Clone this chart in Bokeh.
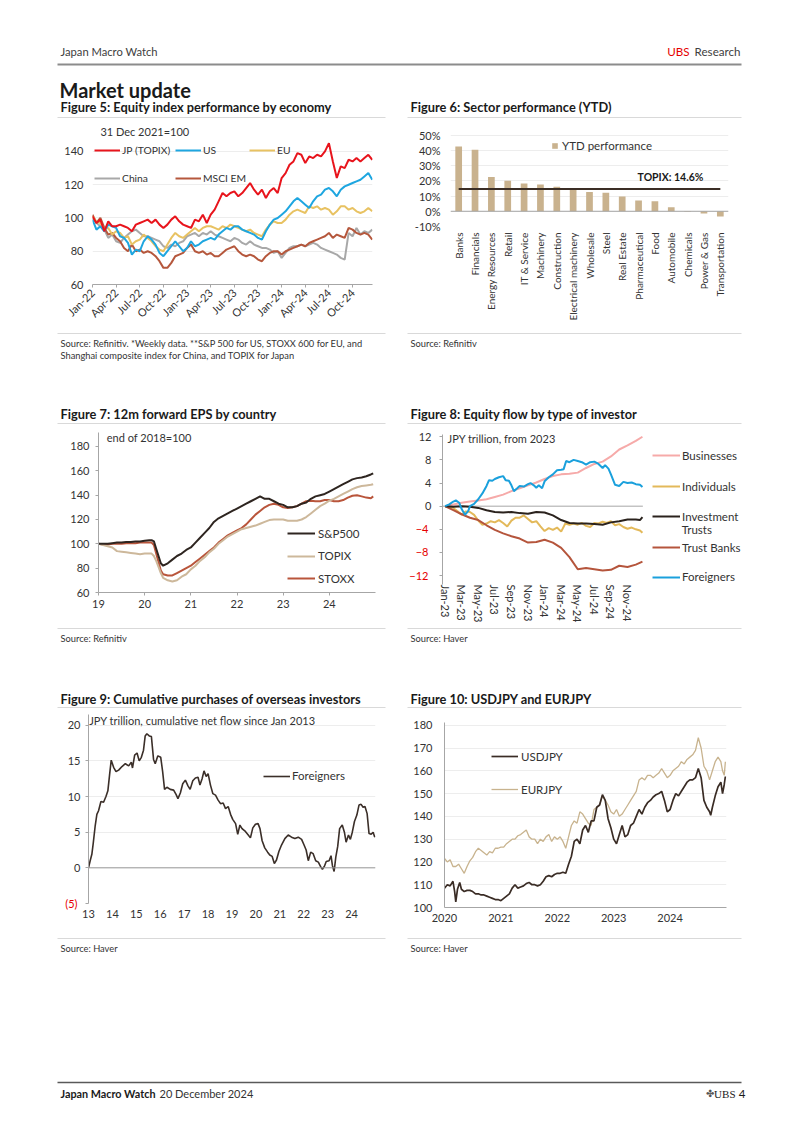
from math import pi
from bokeh.plotting import figure
from bokeh.layouts import column, row
from bokeh.models import (Range1d, FactorRange, FixedTicker, Legend, LegendItem, Label, Span,
                          LinearAxis, PrintfTickFormatter)
from bokeh.core.properties import value
from bokeh.embed import file_html
from bokeh.resources import INLINE

FONT = "Lato"
TXT = "#333333"
AX = "#a6a6a6"
GRID = "#ededed"
RED = "#e60000"

# ---------------- Figure 5 data (months since Jan-22, half-month steps) ----------------
f5_tick_pos = [0, 3, 6, 9, 12, 15, 18, 21, 24, 27, 30, 33]
f5_tick_labels = ["Jan-22", "Apr-22", "Jul-22", "Oct-22", "Jan-23", "Apr-23", "Jul-23", "Oct-23",
                  "Jan-24", "Apr-24", "Jul-24", "Oct-24"]
f5_jp = [101, 97, 99, 92, 98, 95, 95, 96, 95, 94, 92, 96, 97, 98, 99, 97, 99, 96, 94, 96, 99, 101, 98, 96,
         95, 94, 99, 98, 102, 97, 102, 105, 110, 115, 113, 115, 116, 113, 115, 118, 121, 117, 114, 117, 112, 116,
         118, 115, 124, 127, 132, 134, 139, 138, 133, 137, 136, 138, 137, 140, 145, 134, 124, 131, 130, 135,
         134, 136, 134, 136, 138, 135]
f5_us = [99, 93, 95, 92, 96, 95, 94, 89, 88, 85, 78, 81, 80, 86, 89, 87, 84, 79, 77, 80, 83, 86, 83, 80,
         82, 86, 83, 84, 86, 87, 88, 87, 90, 92, 94, 93, 95, 95, 93, 92, 91, 90, 88, 87, 92, 96,
         99, 100, 102, 104, 107, 110, 112, 110, 108, 106, 110, 113, 114, 117, 118, 116, 113, 117, 119, 120,
         121, 122, 123, 125, 127, 123]
f5_eu = [101, 98, 97, 93, 94, 90, 92, 91, 88, 89, 84, 86, 87, 90, 88, 86, 83, 81, 80, 84, 88, 91, 89, 88,
         90, 92, 94, 92, 94, 95, 95, 94, 93, 95, 94, 96, 95, 94, 93, 92, 93, 91, 90, 89, 93, 96,
         98, 97, 97, 99, 102, 104, 105, 104, 103, 107, 106, 107, 105, 106, 105, 102, 104, 107, 107, 105,
         106, 104, 103, 104, 106, 104]
f5_china = [100, 97, 95, 93, 88, 90, 86, 85, 88, 90, 92, 93, 91, 89, 89, 88, 87, 86, 83, 82, 84, 83, 85, 86,
            89, 90, 91, 89, 91, 90, 92, 90, 89, 88, 87, 86, 88, 87, 85, 84, 86, 84, 83, 82, 82, 81,
            79, 80, 76, 79, 82, 83, 83, 84, 83, 84, 85, 84, 82, 81, 80, 79, 78, 76, 75, 91,
            89, 94, 90, 92, 91, 93]
f5_em = [102, 97, 100, 94, 90, 91, 88, 86, 82, 80, 84, 80, 81, 79, 80, 79, 77, 74, 70, 70, 73, 77, 78, 79,
         82, 84, 80, 79, 80, 78, 79, 77, 77, 79, 81, 82, 83, 80, 78, 77, 78, 77, 75, 74, 77, 79,
         80, 80, 78, 80, 81, 82, 83, 84, 83, 85, 86, 87, 88, 89, 91, 88, 90, 89, 88, 94,
         93, 91, 90, 91, 90, 87]

# ---------------- Figure 6 data ----------------
f6_sectors = ["Banks", "Financials", "Energy Resources", "Retail", "IT & Service", "Machinery",
              "Construction", "Electrical machinery", "Wholesale", "Steel", "Real Estate",
              "Pharmaceutical", "Food", "Automobile", "Chemicals", "Power & Gas", "Transportation"]
f6_ytd = [42.5, 40.5, 22.5, 20.0, 18.2, 17.6, 16.1, 15.0, 12.6, 12.1, 9.7, 7.1, 6.6, 2.7, -0.3, -1.5, -3.5]
f6_topix = 14.6
f6_ticks = [-10, 0, 10, 20, 30, 40, 50]

# ---------------- Figure 7 data (year) ----------------
f7_year = [2019.0, 2019.1, 2019.2, 2019.3, 2019.4, 2019.5, 2019.6, 2019.7, 2019.8, 2019.9, 2020.0, 2020.1,
           2020.15, 2020.2, 2020.25, 2020.3, 2020.35, 2020.4,
           2020.5, 2020.6, 2020.7, 2020.8, 2020.9,
           2021.0, 2021.1, 2021.2, 2021.3, 2021.4, 2021.5, 2021.6, 2021.7, 2021.8, 2021.9,
           2022.0, 2022.1, 2022.2, 2022.3, 2022.4, 2022.5, 2022.6, 2022.7, 2022.8, 2022.9,
           2023.0, 2023.1, 2023.2, 2023.3, 2023.4, 2023.5, 2023.6, 2023.7, 2023.8, 2023.9,
           2024.0, 2024.1, 2024.2, 2024.3, 2024.4, 2024.5, 2024.6, 2024.7, 2024.8, 2024.9, 2024.95]
f7_sp = [100, 100, 100, 100.5, 101, 101, 101.5, 101.5, 102, 102, 102.5, 103,
         103, 102, 96, 90, 84, 82,
         84, 87, 90, 92, 95,
         97, 101, 105, 109, 113, 118, 121, 123, 125, 127,
         129, 131, 133, 135, 137, 139, 137, 137, 135, 133,
         132, 130, 130, 131, 133, 134, 137, 139, 140, 141,
         143, 145, 147, 149, 151, 153, 154, 154.5, 155.5, 157, 158]
f7_topix = [100, 99, 98, 97, 94, 93.5, 93, 92.5, 92, 91.5, 92, 92,
            92, 90, 86, 81, 76, 72,
            70, 69, 70, 73, 75,
            79, 82, 86, 89, 93, 96, 100, 103, 106, 108,
            110, 112, 113, 114, 115, 116.5, 118, 119.5, 120, 120,
            120, 119, 119, 119, 120, 122, 125, 128, 131, 133,
            135.5, 137, 139, 141, 143, 145, 146.5, 147.5, 148, 148.5, 149]
f7_stoxx = [100, 99.5, 99.5, 100, 100, 100, 100.5, 100.5, 100.5, 101, 101, 101,
            101, 99, 92, 85, 78, 75,
            74, 74, 76, 78, 80,
            82, 85, 88, 91, 94, 97, 101, 104, 107, 109,
            111, 113, 116, 120, 124, 127, 130, 132, 133, 132,
            130, 129.5, 130, 131, 133, 135, 135.5, 135, 135, 136,
            136, 135, 135, 136, 138, 139.5, 140, 139, 138, 137.5, 139]
f7_ticks = [2019, 2020, 2021, 2022, 2023, 2024]
f7_tick_labels = ["19", "20", "21", "22", "23", "24"]

# ---------------- Figure 8 data (months since Jan-23) ----------------
f8_tick_pos = [0, 2, 4, 6, 8, 10, 12, 14, 16, 18, 20, 22]
f8_tick_labels = ["Jan-23", "Mar-23", "May-23", "Jul-23", "Sep-23", "Nov-23",
                  "Jan-24", "Mar-24", "May-24", "Jul-24", "Sep-24", "Nov-24"]
f8_yticks = [-12, -8, -4, 0, 4, 8, 12]
f8_bus_m = [0, 1, 2, 3, 4, 5, 6, 7, 8, 9, 10, 11, 12, 13, 14, 15, 16, 17, 18, 19, 20, 21, 22, 23, 23.8]
f8_bus = [0, 0.3, 0.6, 0.8, 1.0, 1.2, 1.6, 2.0, 2.6, 3.1, 3.6, 4.1, 4.7, 5.2, 5.5, 5.6, 5.8, 6.6, 7.3, 7.7,
          8.6, 9.8, 10.5, 11.3, 12.0]
f8_ind_m = [0, 0.5, 1, 1.5, 2, 2.5, 3, 3.5, 4, 4.5, 5, 5.5, 6, 6.5, 7, 7.5, 8, 8.5, 9, 9.5, 10, 10.5, 11, 11.5,
            12, 12.5, 13, 13.5, 14, 14.5, 15, 15.5, 16, 16.5, 17, 17.5, 18, 18.5, 19, 19.5, 20, 20.5, 21,
            21.5, 22, 22.5, 23, 23.5, 23.8]
f8_ind = [0, -0.1, -0.3, -0.9, -1.5, -0.9, -1.0, -1.5, -2.5, -3.2, -3.0, -2.6, -2.8, -2.4, -2.9, -3.5, -2.5,
          -2.0, -2.0, -1.6, -2.2, -2.8, -2.6, -3.5, -4.3, -3.8, -4.1, -3.7, -4.4, -3.0, -3.2, -3.0, -3.2, -2.9,
          -3.4, -3.6, -2.9, -3.0, -2.7, -2.9, -2.6, -3.3, -3.1, -3.6, -3.9, -3.7, -4.0, -4.2, -4.6]
f8_it_m = [0, 1, 2, 3, 4, 5, 6, 7, 8, 9, 10, 11, 12, 13, 14, 15, 16, 17, 18, 19, 20, 21, 22, 23, 23.5, 23.8]
f8_it = [0, -0.1, 0, -0.1, -0.3, -0.7, -1.0, -1.1, -1.0, -1.2, -1.3, -1.0, -1.1, -1.6, -2.4, -2.9, -3.0, -3.0,
         -3.1, -3.2, -2.8, -2.6, -2.3, -2.3, -2.4, -1.9]
f8_tb_m = [0, 1, 2, 3, 4, 5, 6, 7, 8, 9, 10, 11, 12, 13, 14, 15, 16, 17, 18, 19, 20, 21, 22, 23, 23.8]
f8_tb = [0, -0.7, -1.4, -2.0, -2.4, -3.3, -4.1, -4.7, -5.2, -5.6, -6.3, -6.2, -5.8, -6.3, -7.2, -8.8, -10.9,
         -10.7, -10.9, -11.1, -11.0, -10.3, -10.5, -10.1, -9.6]
f8_for_m = [0, 0.5, 1, 1.3, 1.7, 2, 2.4, 2.8, 3, 3.5, 4, 4.5, 5, 5.3, 5.7, 6, 6.5, 7, 7.3, 7.7, 8, 8.3, 8.7,
            9, 9.5, 10, 10.3, 10.7, 11, 11.3, 11.7, 12, 12.5, 13, 13.5, 14, 14.3, 14.6, 15, 15.5, 16, 16.5,
            17, 17.5, 18, 18.5, 19, 19.3, 19.7, 20, 20.5, 21, 21.5, 22, 22.5, 23, 23.5, 23.8]
f8_for = [0, 0.3, 0.8, 1.0, 0.6, -0.5, -1.5, -0.8, 0.0, 0.4, 1.2, 2.2, 3.5, 4.5, 4.4, 4.7, 5.0, 5.2, 4.5,
          4.4, 3.6, 2.6, 3.1, 3.5, 3.4, 3.8, 4.0, 3.6, 3.2, 3.6, 3.1, 4.3, 5.0, 5.5, 6.2, 6.3, 6.4, 7.8,
          7.6, 8.0, 7.8, 7.6, 7.2, 7.6, 7.7, 7.3, 6.6, 7.1, 6.5, 5.5, 3.7, 3.5, 4.2, 4.0, 4.1, 3.8, 3.7, 3.3]

# ---------------- Figure 9 data (year 13 = 2013) ----------------
f9_year = [13.0, 13.07, 13.14, 13.2, 13.28, 13.35, 13.42, 13.52, 13.63, 13.73, 13.81, 13.88, 13.95, 14.05,
           14.15, 14.26, 14.4, 14.54, 14.68, 14.79, 14.84, 14.93, 15.03, 15.12, 15.21, 15.3, 15.37, 15.44,
           15.54, 15.63, 15.72, 15.79, 15.9, 16.02, 16.1, 16.18, 16.28, 16.42, 16.56, 16.66, 16.74, 16.84,
           16.94, 17.05, 17.16, 17.25, 17.36, 17.47, 17.58, 17.66, 17.75, 17.83, 17.92, 18.0, 18.1, 18.2,
           18.31, 18.42, 18.52, 18.63, 18.73, 18.84, 18.94, 19.03, 19.15, 19.24, 19.33, 19.42, 19.56, 19.68,
           19.77, 19.87, 19.98, 20.09, 20.17, 20.26, 20.37, 20.49, 20.58, 20.68, 20.77, 20.86, 20.96, 21.07,
           21.21, 21.35, 21.49, 21.63, 21.77, 21.91, 22.0, 22.1, 22.19, 22.29, 22.39, 22.5, 22.61, 22.7,
           22.78, 22.86, 22.94, 23.06, 23.14, 23.2, 23.27, 23.34, 23.42, 23.5, 23.61, 23.7, 23.77, 23.87,
           23.95, 24.03, 24.12, 24.22, 24.31, 24.4, 24.48, 24.56, 24.65, 24.73, 24.82, 24.9, 24.97]
f9_flow = [0, 1, 1.9, 3.5, 5.9, 7.5, 8, 9.3, 9.2, 10, 10.8, 13, 15.1, 14.1, 13.5, 13.7, 14.2, 14.6, 14.3,
           14.8, 14.0, 15.8, 16.1, 15.0, 15.5, 16.5, 18.5, 18.8, 18.5, 18.4, 15.2, 14.6, 15.7, 15.5, 13.5,
           11.0, 11.3, 11.0, 10.9, 10.3, 9.7, 10.5, 11.8, 12.3, 11.5, 11.0, 12.2, 12.6, 12.7, 11.6, 12.5,
           13.6, 12.8, 13.2, 11.6, 10.4, 10.2, 9.5, 9.0, 9.1, 8.3, 8.6, 7.5, 6.8, 6.2, 4.7, 6.0, 5.5, 5.1,
           4.6, 4.2, 5.6, 6.1, 6.2, 5.5, 3.8, 2.8, 2.2, 1.8, 1.6, 0.6, 1.1, 2.3, 3.2, 4.1, 4.6, 4.3, 4.1, 4.3,
           4.0, 3.3, 2.5, 1.0, 2.2, 2.0, 1.0, 0.8, 0.2, -0.2, 0.2, 0.9, 1.0, 1.7, 0.3, -0.5, 1.5, 3.0, 5.5,
           6.0, 5.0, 3.6, 4.6, 4.0, 5.0, 6.5, 7.4, 8.8, 8.9, 8.5, 8.6, 7.6, 4.8, 4.7, 5.0, 4.3]
f9_ticks = [13, 14, 15, 16, 17, 18, 19, 20, 21, 22, 23, 24]
f9_tick_labels = ["13", "14", "15", "16", "17", "18", "19", "20", "21", "22", "23", "24"]
f9_yticks = [-5, 0, 5, 10, 15, 20]

# ---------------- Figure 10 data (year) ----------------
f10_usd_year = [2020.0, 2020.05, 2020.1, 2020.15, 2020.18, 2020.2, 2020.23, 2020.27, 2020.3, 2020.35, 2020.4,
                2020.45, 2020.5, 2020.55, 2020.6, 2020.65, 2020.7, 2020.75, 2020.8, 2020.85, 2020.9, 2020.95,
                2021.0, 2021.05, 2021.1, 2021.15, 2021.2, 2021.25, 2021.3, 2021.35, 2021.4, 2021.45, 2021.5,
                2021.55, 2021.6, 2021.65, 2021.7, 2021.75, 2021.8, 2021.85, 2021.9, 2021.95,
                2022.0, 2022.05, 2022.1, 2022.15, 2022.2, 2022.25, 2022.3, 2022.35, 2022.4, 2022.45, 2022.5,
                2022.55, 2022.6, 2022.65, 2022.7, 2022.75, 2022.8, 2022.85, 2022.9, 2022.95,
                2023.0, 2023.05, 2023.1, 2023.15, 2023.2, 2023.25, 2023.3, 2023.35, 2023.4, 2023.45, 2023.5,
                2023.55, 2023.6, 2023.65, 2023.7, 2023.75, 2023.8, 2023.85, 2023.9, 2023.95,
                2024.0, 2024.05, 2024.1, 2024.15, 2024.2, 2024.25, 2024.3, 2024.35, 2024.4, 2024.45, 2024.5,
                2024.55, 2024.6, 2024.65, 2024.7, 2024.72, 2024.75, 2024.8, 2024.85, 2024.9, 2024.93, 2024.96,
                2024.98]
f10_usd = [108.5, 110, 109.5, 111.5, 107, 102.5, 108, 111, 108, 107, 107.5,
           107.5, 107, 106, 106, 105.5, 105.5, 105, 104.5, 104, 103.5, 103.5,
           103, 104, 105, 106, 108.5, 110, 108.5, 109, 109.5, 110.5, 111,
           110, 110, 109.5, 110, 111.5, 113.5, 114, 113.5, 114.5,
           115, 115, 115.5, 115, 119, 122.5, 129, 130, 128, 134, 136,
           133, 138, 138, 144, 145, 149.5, 147, 139, 135,
           130, 128, 132, 136, 131, 132, 136, 137, 140, 143, 141,
           144, 146, 147, 148.5, 149.5, 150, 151, 147, 142,
           143, 147, 150, 149, 151, 153, 155, 156, 156, 157, 161,
           157, 147, 144, 142, 140.5, 144, 149, 153, 155, 150, 154, 157.5]
f10_eur_year = [2020.0, 2020.05, 2020.1, 2020.15, 2020.2, 2020.25, 2020.3, 2020.35, 2020.4, 2020.45, 2020.5,
                2020.55, 2020.6, 2020.65, 2020.7, 2020.75, 2020.8, 2020.85, 2020.9, 2020.95,
                2021.0, 2021.05, 2021.1, 2021.15, 2021.2, 2021.25, 2021.3, 2021.35, 2021.4, 2021.45, 2021.5,
                2021.55, 2021.6, 2021.65, 2021.7, 2021.75, 2021.8, 2021.85, 2021.9, 2021.95,
                2022.0, 2022.05, 2022.1, 2022.15, 2022.2, 2022.25, 2022.3, 2022.35, 2022.4, 2022.45, 2022.5,
                2022.55, 2022.6, 2022.65, 2022.7, 2022.75, 2022.8, 2022.85, 2022.9, 2022.95,
                2023.0, 2023.05, 2023.1, 2023.15, 2023.2, 2023.25, 2023.3, 2023.35, 2023.4, 2023.45, 2023.5,
                2023.55, 2023.6, 2023.65, 2023.7, 2023.75, 2023.8, 2023.85, 2023.9, 2023.95,
                2024.0, 2024.05, 2024.1, 2024.15, 2024.2, 2024.25, 2024.3, 2024.35, 2024.4, 2024.45, 2024.5,
                2024.55, 2024.6, 2024.65, 2024.7, 2024.75, 2024.8, 2024.85, 2024.9, 2024.93, 2024.96, 2024.98]
f10_eur = [121.5, 120, 121, 118, 118, 119, 117, 115, 118, 120.5, 122,
           124.5, 126, 125, 124, 123, 124.5, 124, 126, 126,
           126.5, 126.5, 128, 129, 130, 130, 131.5, 132, 133, 134, 131,
           130, 130, 128, 130, 129, 131, 132, 129, 131,
           130, 131, 129, 126, 131, 136, 138, 137, 142, 141, 139,
           137, 136, 143, 144, 145, 149, 147, 145, 142,
           141, 143, 140, 141, 143, 145, 147, 149, 151, 156, 157,
           156, 158, 158, 157, 158, 159, 161, 159, 157,
           158, 160, 161, 162, 164, 163, 165, 166, 167, 169, 174.5,
           170, 162, 160, 156, 160, 164, 166, 164, 160, 158, 164]
f10_ticks = [2020, 2021, 2022, 2023, 2024]
f10_tick_labels = ["2020", "2021", "2022", "2023", "2024"]


def pairs(xs, ys):
    n = min(len(xs), len(ys))
    return list(xs[:n]), list(ys[:n])


def canvas(w, h):
    c = figure(width=w, height=h, x_range=Range1d(0, w), y_range=Range1d(h, 0),
               x_axis_type=None, y_axis_type=None, output_backend="svg",
               toolbar_location=None, min_border=0)
    c.outline_line_color = None
    c.frame_align = False
    return c


def put(c, x, y, s, size="11px", bold=False, color=TXT, align="left", font=FONT):
    c.text(x=[x], y=[y], text=[s], text_font=value(font), text_font_size=size,
           text_font_style="bold" if bold else "normal", text_color=color,
           text_align=align, text_baseline="middle")


def hline(c, x0, x1, y, color="#d9d9d9", width=1):
    c.segment(x0=[x0], y0=[y], x1=[x1], y1=[y], line_color=color, line_width=width)


def chart(w, h, xr, yr, l, r, t, b):
    p = figure(width=w, height=h, x_range=xr, y_range=yr, output_backend="svg",
               toolbar_location=None, min_border_left=l, min_border_right=r,
               min_border_top=t, min_border_bottom=b)
    p.frame_align = False
    p.outline_line_color = None
    p.xgrid.grid_line_color = None
    p.ygrid.grid_line_color = None
    return p


def style_axis(ax, standoff=6, tick_out=0, line=AX, size="11px", color=TXT):
    ax.major_label_text_font = FONT
    ax.major_label_text_font_size = size
    ax.major_label_text_color = color
    ax.axis_line_color = line
    ax.major_tick_line_color = AX if tick_out else None
    ax.major_tick_in = 0
    ax.major_tick_out = tick_out
    ax.minor_tick_line_color = None
    ax.major_label_standoff = standoff


def leg(p, label, r, x, y, gw=26, gh=14, standoff=3, size="11px"):
    lg = Legend(items=[LegendItem(label=label, renderers=[r])], location=(x, y),
                orientation="vertical", glyph_width=gw, glyph_height=gh, label_standoff=standoff,
                label_height=gh, label_width=10, padding=0, margin=0, spacing=0,
                border_line_color=None, background_fill_alpha=0,
                label_text_font=FONT, label_text_font_size=size, label_text_color=TXT)
    p.add_layout(lg)
    return lg


def note(p, x, y, s, size="11px"):
    p.add_layout(Label(x=x, y=y, text=s, text_font=FONT, text_font_size=size, text_color=TXT,
                       text_baseline="middle"))


def red_axis(p, ticks, overrides, standoff):
    ax = LinearAxis(ticker=FixedTicker(ticks=ticks), major_label_overrides=overrides)
    style_axis(ax, standoff=standoff, tick_out=0, line=None, color=RED)
    p.add_layout(ax, "left")


TITLE = "#1a1a1a"
TS = "12.8px"
SS = "9.3px"

# ================= header =================
hdr = canvas(802, 120)
put(hdr, 60, 51, "Japan Macro Watch", size="11.2px", color="#404040")
put(hdr, 740, 51, "Research", size="11.6px", color="#404040", align="right")
put(hdr, 689, 51, "UBS", size="11.6px", color=RED, align="right")
hline(hdr, 57, 741, 64, color="#8c8c8c", width=2)
put(hdr, 59, 89, "Market update", size="20px", bold=True, color=TITLE)
put(hdr, 60, 106, "Figure 5: Equity index performance by economy", size=TS, bold=True, color=TITLE)
put(hdr, 410, 106, "Figure 6: Sector performance (YTD)", size=TS, bold=True, color=TITLE)
hline(hdr, 57, 385, 117)
hline(hdr, 407, 741, 117)

# ================= Figure 5 =================
p5 = chart(401, 210, Range1d(0, 35.53), Range1d(60, 157.4), 92, 29, 2, 46)
m5 = [i * 0.5 for i in range(72)]
series5 = [("JP (TOPIX)", f5_jp, "#e8141c"), ("US", f5_us, "#1ea6e0"), ("EU", f5_eu, "#e8c262"),
           ("China", f5_china, "#a8a8a8"), ("MSCI EM", f5_em, "#b5573c")]
rend5 = {}
for i in [3, 4, 2, 1, 0]:
    name, ys, col = series5[i]
    rend5[name] = p5.line(*pairs(m5, ys), line_color=col, line_width=2)
p5.yaxis.ticker = FixedTicker(ticks=[60, 80, 100, 120, 140])
p5.xaxis.ticker = FixedTicker(ticks=f5_tick_pos)
p5.xaxis.major_label_overrides = dict(zip(f5_tick_pos, f5_tick_labels))
p5.xaxis.major_label_orientation = pi / 4
style_axis(p5.yaxis[0], standoff=9, tick_out=0, line=None)
style_axis(p5.xaxis[0], standoff=3, tick_out=3)
p5.ygrid.grid_line_color = GRID
note(p5, 1.0, 152, "31 Dec 2021=100")
LS5 = "10.3px"
leg(p5, "JP (TOPIX)", rend5["JP (TOPIX)"], 2, 127, standoff=2, size=LS5)
leg(p5, "US", rend5["US"], 83, 127, standoff=2, size=LS5)
leg(p5, "EU", rend5["EU"], 157, 127, standoff=2, size=LS5)
leg(p5, "China", rend5["China"], 2, 99, standoff=2, size=LS5)
leg(p5, "MSCI EM", rend5["MSCI EM"], 83, 99, standoff=2, size=LS5)

# ================= Figure 6 =================
p6 = chart(401, 210, FactorRange(factors=f6_sectors), Range1d(-10, 53.07), 49, 74, 10, 104)
bars = p6.vbar(x=f6_sectors, top=f6_ytd, width=0.41, fill_color="#c9b28e", line_color=None)
p6.add_layout(Span(location=0, dimension="width", line_color="#a6a6a6", line_width=1))
p6.line(x=[f6_sectors[0], f6_sectors[-1]], y=[f6_topix, f6_topix], line_color="#3b2e26", line_width=2)
p6.yaxis.ticker = FixedTicker(ticks=f6_ticks)
p6.yaxis.formatter = PrintfTickFormatter(format="%d%%")
style_axis(p6.yaxis[0], standoff=10, tick_out=0, line=None)
style_axis(p6.xaxis[0], standoff=6, tick_out=0, line=None, size="10px")
p6.xaxis.major_label_orientation = pi / 2
p6.ygrid.grid_line_color = GRID
p6.add_layout(Label(x=11.44, y=22.6, text="TOPIX: %.1f%%" % f6_topix, text_font=FONT, text_font_size="10.5px",
                    text_font_style="bold", text_color=TITLE, text_baseline="middle"))
lg6 = leg(p6, "YTD performance", bars, 101, 73.7, gw=7, gh=14, standoff=4, size="11.5px")
lg6.glyph_height = 7

# ================= band 2 =================
b2 = canvas(802, 100)
hline(b2, 57, 385, 3)
hline(b2, 407, 741, 3)
put(b2, 60, 13, "Source: Refinitiv. *Weekly data. **S&P 500 for US, STOXX 600 for EU, and", size=SS)
put(b2, 60, 25, "Shanghai composite index for China, and TOPIX for Japan", size=SS)
put(b2, 410, 13, "Source: Refinitiv", size=SS)
put(b2, 60, 83, "Figure 7: 12m forward EPS by country", size=TS, bold=True, color=TITLE)
put(b2, 410, 83, "Figure 8: Equity flow by type of investor", size=TS, bold=True, color=TITLE)
hline(b2, 57, 385, 93)
hline(b2, 407, 741, 93)

# ================= Figure 7 =================
p7 = chart(401, 195, Range1d(2019, 2025), Range1d(60, 191.5), 98, 26, 2, 33)
r7s = p7.line(*pairs(f7_year, f7_stoxx), line_color="#b9553b", line_width=2)
r7t = p7.line(*pairs(f7_year, f7_topix), line_color="#cdb89b", line_width=2)
r7p = p7.line(*pairs(f7_year, f7_sp), line_color="#2e2520", line_width=2)
p7.yaxis.ticker = FixedTicker(ticks=[60, 80, 100, 120, 140, 160, 180])
p7.xaxis.ticker = FixedTicker(ticks=f7_ticks)
p7.xaxis.major_label_overrides = dict(zip(f7_ticks, f7_tick_labels))
style_axis(p7.yaxis[0], standoff=6, tick_out=3)
style_axis(p7.xaxis[0], standoff=4, tick_out=3)
note(p7, 2019.18, 187.4, "end of 2018=100")
leg(p7, "S&P500", r7p, 189, 52, gw=28, standoff=3, size="11.5px")
leg(p7, "TOPIX", r7t, 189, 29.3, gw=28, standoff=3, size="11.5px")
leg(p7, "STOXX", r7s, 189, 7, gw=28, standoff=3, size="11.5px")

# ================= Figure 8 =================
x8_start, x8_end = -0.31, 36.83
p8 = chart(401, 195, Range1d(x8_start, x8_end), Range1d(-13.54, 12.39), 41, 52, 4, 39)
p8.segment(x0=[x8_start], y0=[0], x1=[23.85], y1=[0], line_color="#a6a6a6", line_width=1)
r8b = p8.line(*pairs(f8_bus_m, f8_bus), line_color="#f6aaa9", line_width=2)
r8i = p8.line(*pairs(f8_ind_m, f8_ind), line_color="#e3b95a", line_width=2)
r8t = p8.line(*pairs(f8_tb_m, f8_tb), line_color="#b5553c", line_width=2)
r8v = p8.line(*pairs(f8_it_m, f8_it), line_color="#2a221d", line_width=2)
r8f = p8.line(*pairs(f8_for_m, f8_for), line_color="#1aa0dc", line_width=2)
p8.yaxis.ticker = FixedTicker(ticks=f8_yticks)
p8.yaxis.major_label_overrides = {t: "" for t in f8_yticks if t < 0}
p8.xaxis.ticker = FixedTicker(ticks=f8_tick_pos)
p8.xaxis.major_label_overrides = dict(zip(f8_tick_pos, f8_tick_labels))
p8.xaxis.major_label_orientation = -pi / 2
style_axis(p8.yaxis[0], standoff=8, tick_out=3)
style_axis(p8.xaxis[0], standoff=0, tick_out=0, line=None)
red_axis(p8, [t for t in f8_yticks if t < 0], {}, -13)
note(p8, 0.3, 11.7, "JPY trillion, from 2023")
lx = 210
leg(p8, "Businesses", r8b, lx, 121.7, gw=28, standoff=2, size="11.5px")
leg(p8, "Individuals", r8i, lx, 90.7, gw=28, standoff=2, size="11.5px")
leg(p8, "Investment", r8v, lx, 60.7, gw=28, standoff=2, size="11.5px")
note(p8, x8_start + (lx + 30) / 8.32, -3.98, "Trusts", size="11.5px")
leg(p8, "Trust Banks", r8t, lx, 30, gw=28, standoff=2, size="11.5px")
leg(p8, "Foreigners", r8f, lx, 0.5, gw=28, standoff=2, size="11.5px")

# ================= band 3 =================
b3 = canvas(802, 87)
hline(b3, 57, 385, 3)
hline(b3, 407, 741, 3)
put(b3, 60, 13, "Source: Refinitiv", size=SS)
put(b3, 410, 13, "Source: Haver", size=SS)
put(b3, 60, 73, "Figure 9: Cumulative purchases of overseas investors", size=TS, bold=True, color=TITLE)
put(b3, 410, 73, "Figure 10: USDJPY and EURJPY", size=TS, bold=True, color=TITLE)
hline(b3, 57, 385, 82)
hline(b3, 407, 741, 82)

# ================= Figure 9 =================
p9 = chart(401, 224, Range1d(13, 25), Range1d(-5, 21.5), 88, 26, 2, 33)
p9.add_layout(Span(location=0, dimension="width", line_color="#9a9a9a", line_width=1))
r9 = p9.line(*pairs(f9_year, f9_flow), line_color="#3b2f29", line_width=1.6)
p9.yaxis.ticker = FixedTicker(ticks=f9_yticks)
p9.yaxis.major_label_overrides = {-5: ""}
p9.xaxis.ticker = FixedTicker(ticks=f9_ticks)
p9.xaxis.major_label_overrides = dict(zip(f9_ticks, f9_tick_labels))
style_axis(p9.yaxis[0], standoff=5, tick_out=3)
style_axis(p9.xaxis[0], standoff=6, tick_out=0, line=None)
p9.ygrid.grid_line_color = GRID
red_axis(p9, [-5], {-5: "(5)"}, -13)
note(p9, 13.03, 20.6, "JPY trillion, cumulative net flow since Jan 2013")
leg(p9, "Foreigners", r9, 175, 120.3, gw=27, standoff=2, size="11.5px")

# ================= Figure 10 =================
p10 = chart(401, 224, Range1d(2020, 2025), Range1d(100, 181.2), 43, 76, 10, 29)
r10e = p10.line(*pairs(f10_eur_year, f10_eur), line_color="#c8b38e", line_width=1.3)
r10u = p10.line(*pairs(f10_usd_year, f10_usd), line_color="#3a2c25", line_width=1.7)
p10.yaxis.ticker = FixedTicker(ticks=[100, 110, 120, 130, 140, 150, 160, 170, 180])
p10.xaxis.ticker = FixedTicker(ticks=f10_ticks)
p10.xaxis.major_label_overrides = dict(zip(f10_ticks, f10_tick_labels))
style_axis(p10.yaxis[0], standoff=12, tick_out=0)
style_axis(p10.xaxis[0], standoff=6, tick_out=0)
p10.ygrid.grid_line_color = GRID
leg(p10, "USDJPY", r10u, 47, 144, gw=27, standoff=3, size="11.5px")
leg(p10, "EURJPY", r10e, 47, 110.7, gw=27, standoff=3, size="11.5px")

# ================= band 4 / footer =================
b4 = canvas(802, 198)
hline(b4, 57, 385, 2)
hline(b4, 407, 741, 2)
put(b4, 60, 12, "Source: Haver", size=SS)
put(b4, 410, 12, "Source: Haver", size=SS)
hline(b4, 57, 741, 146, color="#595959", width=1.5)
put(b4, 60, 157, "Japan Macro Watch", size="10.8px", bold=True, color=TITLE)
put(b4, 159, 157, "20 December 2024", size="11px", color="#333333")
put(b4, 714, 157, "\u2724", size="10px", color="#555555", align="right", font="DejaVu Sans")
put(b4, 735, 157, "UBS", size="11px", color=TITLE, align="right", font="Liberation Serif")
put(b4, 745, 157, "4", size="11.5px", color=TITLE, align="right")

layout = column(hdr, row(p5, p6), b2, row(p7, p8), b3, row(p9, p10), b4)
open("out.html", "w").write(file_html(layout, INLINE))
